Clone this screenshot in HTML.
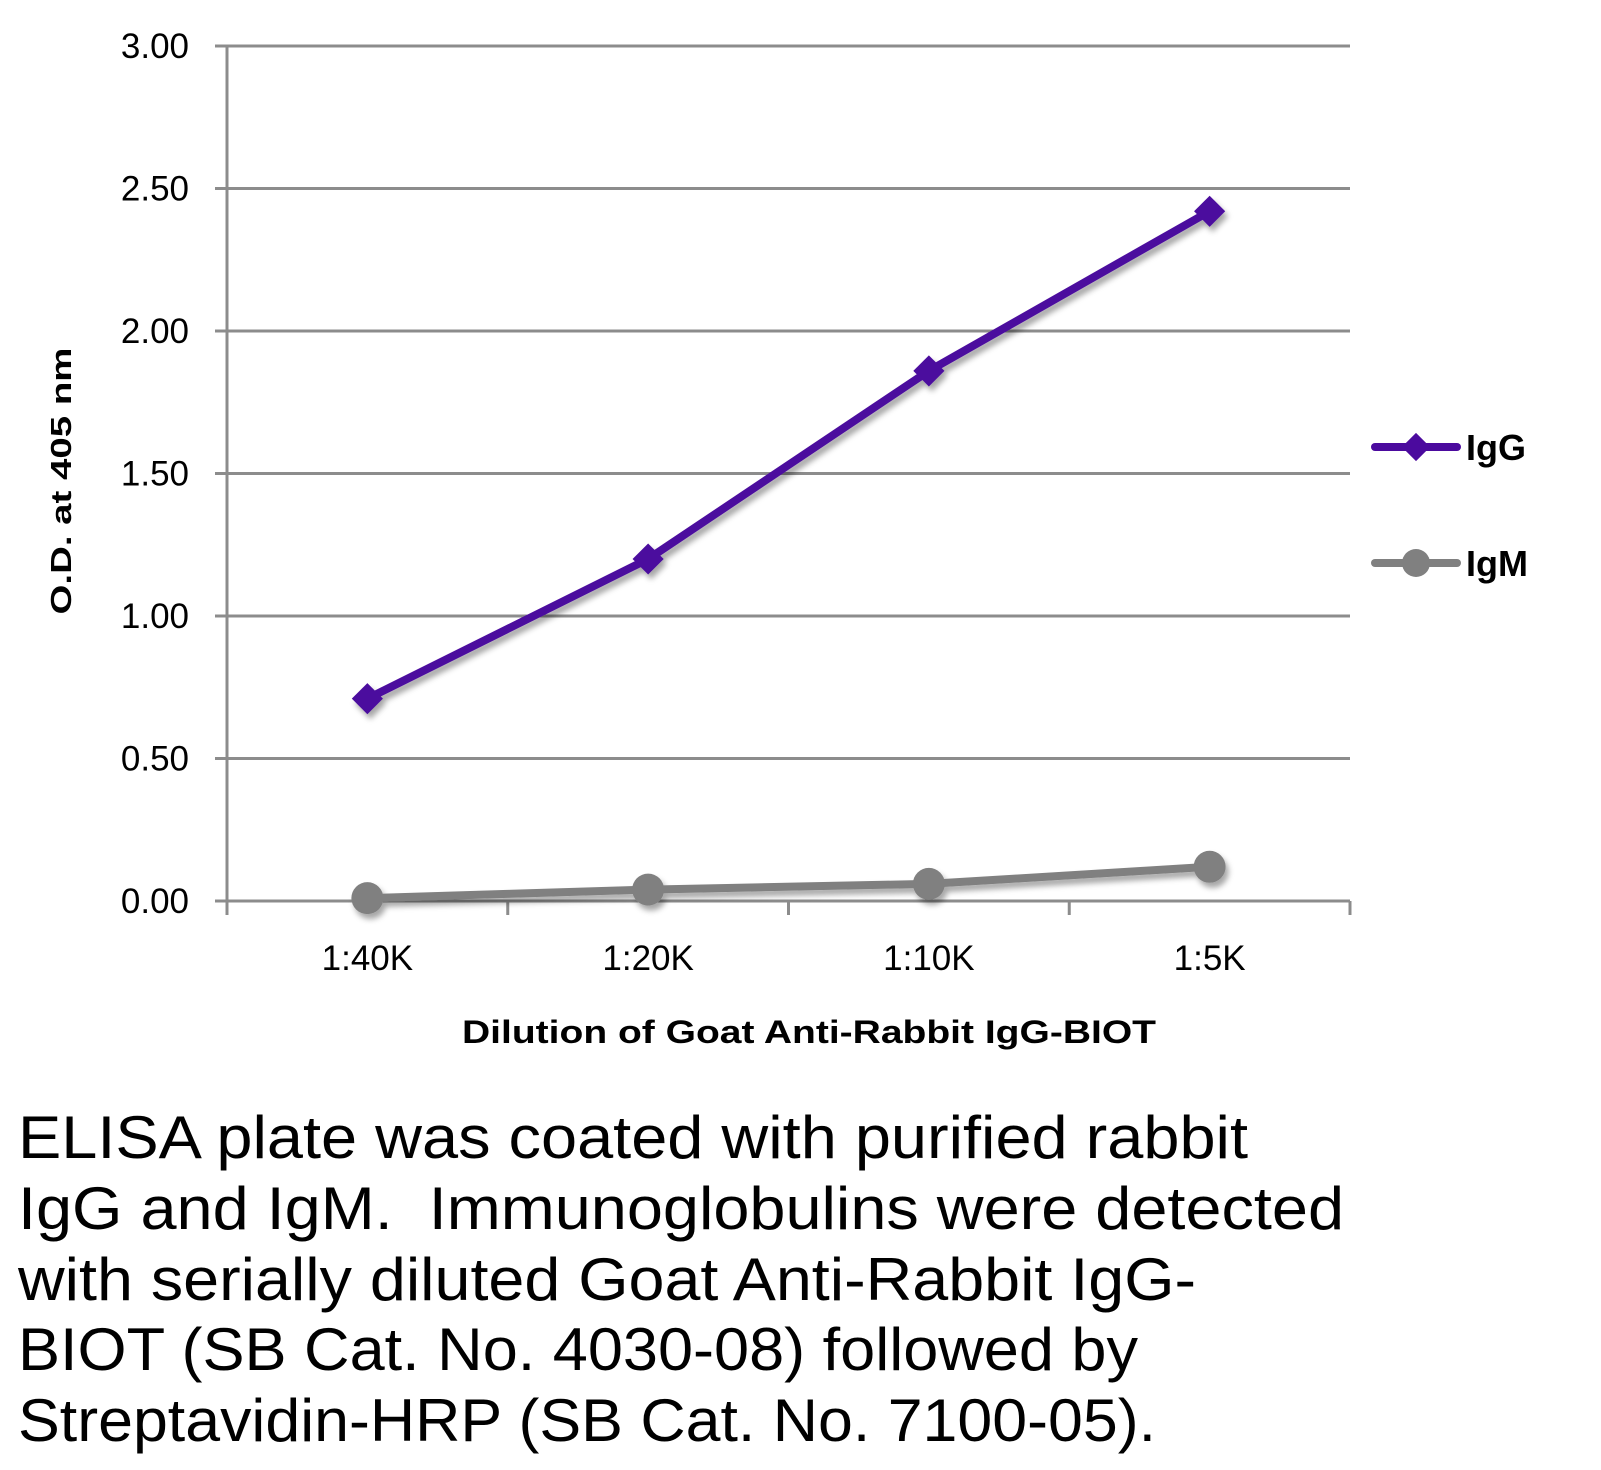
<!DOCTYPE html>
<html><head><meta charset="utf-8"><style>
html,body{margin:0;padding:0;background:#fff;}
svg{display:block;font-family:"Liberation Sans",sans-serif;}
</style></head><body>
<svg id="chart" width="1601" height="1470" viewBox="0 0 1601 1470" xmlns="http://www.w3.org/2000/svg">
<defs>
<filter id="sh" x="-20%" y="-20%" width="140%" height="160%"><feDropShadow dx="3" dy="5" stdDeviation="3" flood-color="#000" flood-opacity="0.35"/></filter>
</defs>
<g id="grid"></g>
<g id="axes"></g>
<g id="series"></g>
<text transform="translate(71,481) rotate(-90)" text-anchor="middle" font-size="29" font-weight="bold" textLength="267" lengthAdjust="spacingAndGlyphs">O.D. at 405 nm</text>
<text x="809" y="1043" text-anchor="middle" font-size="32" font-weight="bold" textLength="694" lengthAdjust="spacingAndGlyphs">Dilution of Goat Anti-Rabbit IgG-BIOT</text>
<g>
<g>
<line x1="1375" y1="447" x2="1457" y2="447" stroke="#4b0a9e" stroke-width="8" stroke-linecap="round"/>
<rect x="1406" y="437" width="20" height="20" fill="#4b0a9e" transform="rotate(45 1416 447)"/>
<text x="1466" y="460" font-size="36" font-weight="bold">IgG</text>
</g>
<g>
<line x1="1375" y1="563" x2="1457" y2="563" stroke="#808080" stroke-width="8" stroke-linecap="round"/>
<circle cx="1416" cy="563" r="14" fill="#808080"/>
<text x="1466" y="576" font-size="36" font-weight="bold">IgM</text>
</g>
</g>
<g font-size="60" fill="#000">
<text x="18" y="1158" textLength="1230" lengthAdjust="spacingAndGlyphs">ELISA plate was coated with purified rabbit</text>
<text x="18" y="1229" textLength="1326" lengthAdjust="spacingAndGlyphs">IgG and IgM.&#160; Immunoglobulins were detected</text>
<text x="18" y="1300" textLength="1178" lengthAdjust="spacingAndGlyphs">with serially diluted Goat Anti-Rabbit IgG-</text>
<text x="18" y="1370" textLength="1120" lengthAdjust="spacingAndGlyphs">BIOT (SB Cat. No. 4030-08) followed by</text>
<text x="18" y="1441" textLength="1138" lengthAdjust="spacingAndGlyphs">Streptavidin-HRP (SB Cat. No. 7100-05).</text>
</g>
</svg>
<script>
const categories = ["1:40K","1:20K","1:10K","1:5K"];
const iggValues = [0.71, 1.20, 1.86, 2.42];
const igmValues = [0.01, 0.04, 0.06, 0.12];
const yTicks = [0, 0.5, 1.0, 1.5, 2.0, 2.5, 3.0];
const yTickLabels = ["0.00","0.50","1.00","1.50","2.00","2.50","3.00"];

const NS = "http://www.w3.org/2000/svg";
const X0 = 227, X1 = 1350, Y0 = 901, Y1 = 46, YMAX = 3;
const band = (X1 - X0) / categories.length;
function xPos(i){ return X0 + band * (i + 0.5); }
function yPos(v){ return Y0 - (v / YMAX) * (Y0 - Y1); }
function mk(tag, attrs, parent){ const e = document.createElementNS(NS, tag); for (const k in attrs) e.setAttribute(k, attrs[k]); parent.appendChild(e); return e; }

const grid = document.getElementById('grid');
const axes = document.getElementById('axes');
const series = document.getElementById('series');

yTicks.forEach((t, i) => {
  const y = yPos(t);
  const l = mk('line', {x1: 215, x2: X1, y1: y, y2: y, stroke: '#8c8c8c', 'stroke-width': 3}, grid);
  
  
  const tx = mk('text', {x: 189, y: y + 12, 'text-anchor': 'end', 'font-size': 35}, axes);
  tx.textContent = yTickLabels[i];
  
  
});
const ya = mk('line', {x1: X0, x2: X0, y1: Y1, y2: Y0 + 14, stroke: '#8c8c8c', 'stroke-width': 3}, axes);


for (let i = 1; i <= categories.length; i++) {
  const x = X0 + band * i;
  const tk = mk('line', {x1: x, x2: x, y1: Y0, y2: Y0 + 14, stroke: '#8c8c8c', 'stroke-width': 3}, axes);
  
  
}
categories.forEach((c, i) => {
  const tx = mk('text', {x: xPos(i), y: 970, 'text-anchor': 'middle', 'font-size': 35}, axes);
  tx.textContent = c;
  
  
});

function drawSeries(vals, color, marker, name){
  const g = mk('g', {filter: 'url(#sh)'}, series);
  
  
  const pts = vals.map((v, i) => xPos(i) + ',' + yPos(v)).join(' ');
  const pl = mk('polyline', {points: pts, fill: 'none', stroke: color, 'stroke-width': 8, 'stroke-linejoin': 'round', 'stroke-linecap': 'round'}, g);
  
  
  vals.forEach((v, i) => {
    const x = xPos(i), y = yPos(v);
    let m;
    if (marker === 'diamond') {
      m = mk('rect', {x: x - 11, y: y - 11, width: 22, height: 22, fill: color, transform: 'rotate(45 ' + x + ' ' + y + ')'}, g);
    } else {
      m = mk('circle', {cx: x, cy: y, r: 16, fill: color}, g);
    }
    
    
  });
}
drawSeries(igmValues, '#808080', 'circle', 'igm');
drawSeries(iggValues, '#4b0a9e', 'diamond', 'igg');
</script>
</body></html>
